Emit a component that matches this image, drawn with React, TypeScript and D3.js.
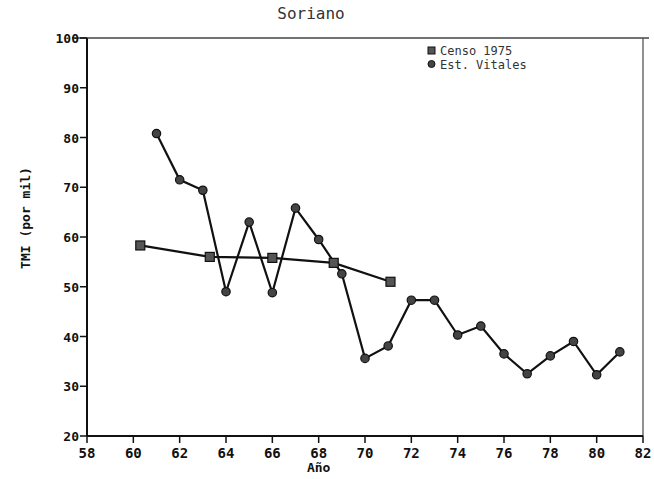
import React from "react";
import * as d3 from "d3";

const title = "Soriano";
const yLabel = "TMI (por mil)";
const xLabel = "Año";
const legendLabels = ["Censo 1975", "Est. Vitales"];

const censoYears = [60.3, 63.3, 66.0, 68.65, 71.1];
const censoValues = [58.3, 56.0, 55.8, 54.8, 51.0];

const vitalYears = [61, 62, 63, 64, 65, 66, 67, 68, 69, 70, 71, 72, 73, 74, 75, 76, 77, 78, 79, 80, 81];
const vitalValues = [80.8, 71.5, 69.4, 49.0, 63.0, 48.8, 65.8, 59.5, 52.6, 35.6, 38.1, 47.3, 47.3, 40.3, 42.1, 36.5, 32.5, 36.1, 39.0, 32.3, 36.9];

const xTicks = [58, 60, 62, 64, 66, 68, 70, 72, 74, 76, 78, 80, 82];
const yTicks = [20, 30, 40, 50, 60, 70, 80, 90, 100];

export default function App() {
  const W = 654, H = 479;
  const left = 87, right = 643, top = 38, bottom = 436;
  const x = d3.scaleLinear().domain([58, 82]).range([left, right]);
  const y = d3.scaleLinear().domain([20, 100]).range([bottom, top]);
  const line = d3.line<[number, number]>().x(d => x(d[0])).y(d => y(d[1]));
  const censo: [number, number][] = censoYears.map((yr, i) => [yr, censoValues[i]]);
  const vital: [number, number][] = vitalYears.map((yr, i) => [yr, vitalValues[i]]);
  const font = "'DejaVu Sans Mono', monospace";
  return (
    <svg width={W} height={H} style={{ position: "absolute", left: 0, top: 0, background: "#fff" }}>
      <rect x={0} y={0} width={W} height={H} fill="#fff" />
      <text x={311} y={19} textAnchor="middle" fontFamily={font} fontSize={16} fill="#333">{title}</text>
      {/* frame top & right */}
      <line x1={left - 15} x2={right + 6} y1={top} y2={top} stroke="#444" strokeWidth={1.3} />
      <line x1={right} x2={right} y1={top} y2={bottom} stroke="#555" strokeWidth={1.3} />
      {/* axes */}
      <line x1={left} x2={left} y1={top} y2={bottom} stroke="#111" strokeWidth={2} />
      <line x1={left} x2={right} y1={bottom} y2={bottom} stroke="#111" strokeWidth={2} />
      {yTicks.map(t => (
        <g key={"y" + t}>
          <line x1={left - 7} x2={left} y1={y(t)} y2={y(t)} stroke="#111" strokeWidth={1.5} />
          <text x={left - 8} y={y(t) + 5} textAnchor="end" fontFamily={font} fontWeight="bold" fontSize={13} fill="#111">{t}</text>
        </g>
      ))}
      {xTicks.map(t => (
        <g key={"x" + t}>
          <line x1={x(t)} x2={x(t)} y1={bottom} y2={bottom + 7} stroke="#111" strokeWidth={1.5} />
          <text x={x(t)} y={bottom + 22} textAnchor="middle" fontFamily={font} fontWeight="bold" fontSize={14} fill="#111">{t}</text>
        </g>
      ))}
      <text x={x(68)} y={bottom + 36} textAnchor="middle" fontFamily={font} fontWeight="bold" fontSize={13} fill="#111">{xLabel}</text>
      <text transform={`translate(30, 218) rotate(-90)`} textAnchor="middle" fontFamily={font} fontWeight="bold" fontSize={13} fill="#111">{yLabel}</text>
      {/* series */}
      <path d={line(vital) || ""} fill="none" stroke="#111" strokeWidth={2.2} />
      <path d={line(censo) || ""} fill="none" stroke="#111" strokeWidth={2.2} />
      {vital.map((d, i) => (
        <circle key={"v" + i} cx={x(d[0])} cy={y(d[1])} r={4.2} fill="#444" stroke="#111" strokeWidth={1.2} />
      ))}
      {censo.map((d, i) => (
        <rect key={"c" + i} x={x(d[0]) - 4.5} y={y(d[1]) - 4.5} width={9} height={9} fill="#555" stroke="#111" strokeWidth={1.2} />
      ))}
      {/* legend */}
      <rect x={428} y={47} width={7} height={7} fill="#555" stroke="#111" strokeWidth={1} />
      <text x={440} y={55} fontFamily={font} fontSize={12} fill="#333">{legendLabels[0]}</text>
      <circle cx={431.5} cy={64} r={3.5} fill="#444" stroke="#111" strokeWidth={1} />
      <text x={440} y={69} fontFamily={font} fontSize={12} fill="#333">{legendLabels[1]}</text>
    </svg>
  );
}
